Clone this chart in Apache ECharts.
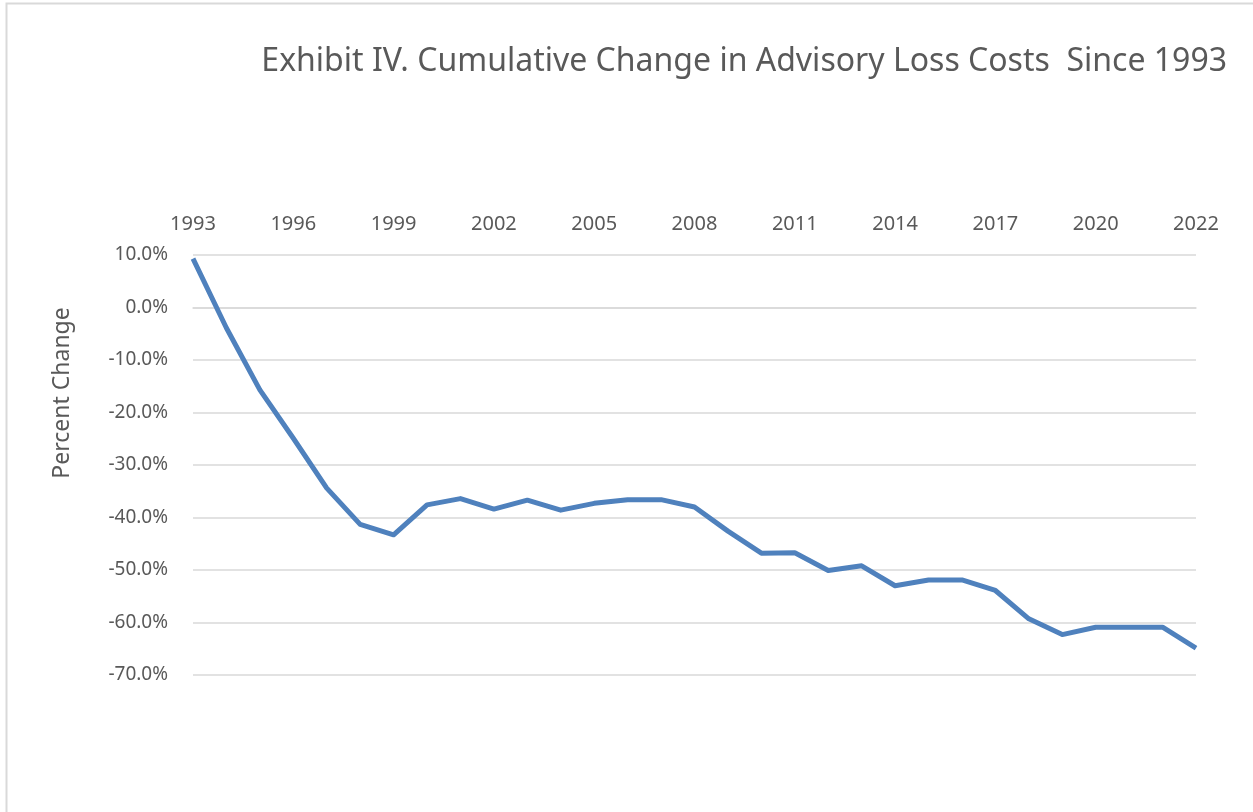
<!DOCTYPE html>
<html>
<head>
<meta charset="utf-8">
<script src="https://cdn.jsdelivr.net/npm/echarts@6/dist/echarts.min.js"></script>
<style>
html,body{margin:0;padding:0;background:#fff;}
#chart{width:1253px;height:812px;}
</style>
</head>
<body>
<div id="chart"></div>
<script>
const titleText = 'Exhibit IV. Cumulative Change in Advisory Loss Costs  Since 1993';
const yAxisName = 'Percent Change';
const categories = ['1993','1994','1995','1996','1997','1998','1999','2000','2001','2002',
  '2003','2004','2005','2006','2007','2008','2009','2010','2011','2012',
  '2013','2014','2015','2016','2017','2018','2019','2020','2021','2021','2022'];
const values = [9.3, -3.9, -15.7, -24.9, -34.4, -41.3, -43.3, -37.6, -36.4, -38.4,
  -36.7, -38.6, -37.3, -36.6, -36.6, -38.0, -42.6, -46.8, -46.7, -50.1,
  -49.2, -53.0, -51.9, -51.9, -53.9, -59.3, -62.3, -60.9, -60.9, -60.9, -64.9];
const yMin = -70, yMax = 10, yStep = 10;

const chart = echarts.init(document.getElementById('chart'));
const fontFam = '"Noto Sans", "Open Sans", sans-serif';
chart.setOption({
  animation: false,
  backgroundColor: '#ffffff',
  title: {
    text: titleText,
    right: 21,
    top: 41,
    textStyle: {fontFamily: fontFam, fontSize: 32, fontWeight: 'normal', color: '#595959'}
  },
  graphic: [
    {type: 'rect', shape: {x: 6.5, y: 3.5, width: 1300, height: 900}, style: {fill: 'none', stroke: '#d9d9d9', lineWidth: 2}, silent: true},
    {type: 'text', x: 62, y: 393, rotation: Math.PI / 2,
      style: {text: yAxisName, fontFamily: fontFam, fontSize: 23, fill: '#595959', align: 'center', verticalAlign: 'middle'}}
  ],
  grid: {left: 193, right: 57, top: 255, bottom: 137, containLabel: false},
  xAxis: {
    type: 'category',
    data: categories,
    position: 'top',
    boundaryGap: false,
    axisLine: {show: true, lineStyle: {color: '#d9d9d9', width: 1.5}},
    axisTick: {show: false},
    axisLabel: {interval: 2, color: '#595959', fontFamily: fontFam, fontSize: 20, margin: 21},
    splitLine: {show: false}
  },
  yAxis: {
    type: 'value',
    min: yMin, max: yMax, interval: yStep,
    axisLine: {show: false},
    axisTick: {show: false},
    axisLabel: {color: '#595959', fontFamily: fontFam, fontSize: 19, margin: 25,
      formatter: v => v.toFixed(1) + '%'},
    splitLine: {show: true, lineStyle: {color: '#d9d9d9', width: 1.5}}
  },
  series: [{
    type: 'line',
    data: values,
    showSymbol: false,
    symbol: 'none',
    lineStyle: {color: '#4f81bd', width: 5, join: 'round'},
    itemStyle: {color: '#4f81bd'}
  }]
});
</script>
</body>
</html>
